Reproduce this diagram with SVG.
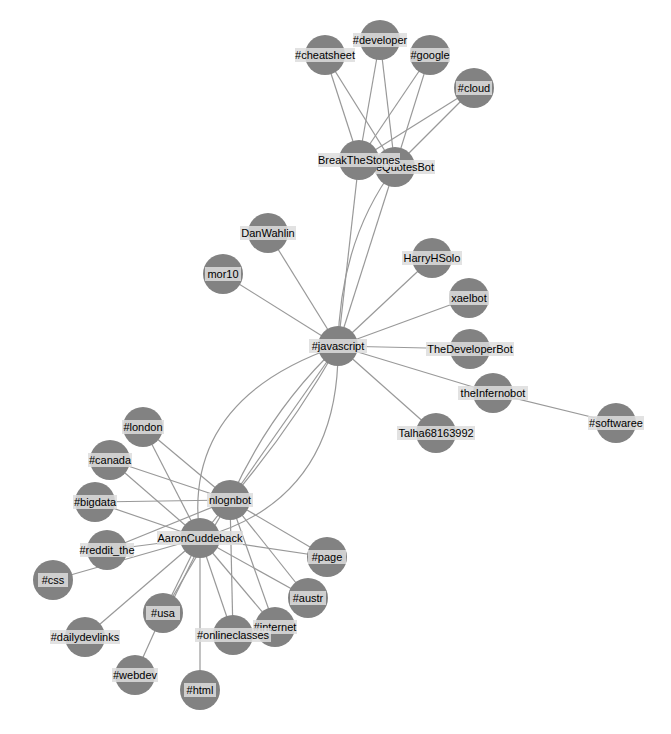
<svg xmlns="http://www.w3.org/2000/svg" width="671" height="734" viewBox="0 0 671 734">
<style>
.e{stroke:#999;stroke-width:1.2;fill:none}
circle{fill:#828282}
rect{fill:#ddd;opacity:0.85}
text{font-family:"Liberation Sans",Arial,sans-serif;font-size:11px;fill:#000;text-anchor:middle;dominant-baseline:central}
</style>
<rect x="0" y="0" width="671" height="734" fill="#fff" opacity="1" style="fill:#fff;opacity:1"/>
<g id="edges">
<line class="e" x1="325" y1="55" x2="359" y2="160"/><line class="e" x1="325" y1="55" x2="395" y2="167"/>
<line class="e" x1="380" y1="40" x2="359" y2="160"/><line class="e" x1="380" y1="40" x2="395" y2="167"/>
<line class="e" x1="430" y1="55" x2="359" y2="160"/><line class="e" x1="430" y1="55" x2="395" y2="167"/>
<line class="e" x1="474" y1="88" x2="359" y2="160"/><line class="e" x1="474" y1="88" x2="395" y2="167"/>
<line class="e" x1="359" y1="160" x2="338" y2="346"/><line class="e" x1="395" y1="167" x2="338" y2="346"/>
<path class="e" d="M395,167 Q340,240 338,346"/>
<line class="e" x1="268" y1="233" x2="338" y2="346"/><line class="e" x1="223" y1="274" x2="338" y2="346"/>
<line class="e" x1="432" y1="258" x2="338" y2="346"/><line class="e" x1="469" y1="298" x2="338" y2="346"/>
<line class="e" x1="470" y1="349" x2="338" y2="346"/><line class="e" x1="493" y1="393" x2="338" y2="346"/>
<line class="e" x1="436" y1="433" x2="338" y2="346"/><line class="e" x1="493" y1="393" x2="616" y2="423"/>
<line class="e" x1="230" y1="500" x2="338" y2="346"/>
<path class="e" d="M230,500 Q270,410 338,346"/><path class="e" d="M230,500 Q290,430 338,346"/>
<path class="e" d="M200,538 Q180,400 338,346"/><path class="e" d="M200,538 Q340,500 338,346"/>
<line class="e" x1="200" y1="538" x2="230" y2="500"/>
<line class="e" x1="143" y1="427" x2="200" y2="538"/><line class="e" x1="143" y1="427" x2="230" y2="500"/>
<line class="e" x1="110" y1="460" x2="200" y2="538"/><line class="e" x1="110" y1="460" x2="230" y2="500"/>
<line class="e" x1="95" y1="502" x2="200" y2="538"/><line class="e" x1="95" y1="502" x2="230" y2="500"/>
<line class="e" x1="107" y1="550" x2="200" y2="538"/><line class="e" x1="107" y1="550" x2="230" y2="500"/>
<line class="e" x1="53" y1="580" x2="200" y2="538"/>
<line class="e" x1="327" y1="557" x2="200" y2="538"/><line class="e" x1="327" y1="557" x2="230" y2="500"/>
<line class="e" x1="308" y1="598" x2="200" y2="538"/><line class="e" x1="308" y1="598" x2="230" y2="500"/>
<line class="e" x1="163" y1="613" x2="200" y2="538"/><line class="e" x1="166" y1="614" x2="203" y2="539"/><line class="e" x1="163" y1="613" x2="230" y2="500"/>
<line class="e" x1="85" y1="637" x2="200" y2="538"/>
<line class="e" x1="233" y1="635" x2="200" y2="538"/><line class="e" x1="233" y1="635" x2="230" y2="500"/>
<line class="e" x1="275" y1="627" x2="200" y2="538"/><line class="e" x1="275" y1="627" x2="230" y2="500"/>
<line class="e" x1="200" y1="690" x2="200" y2="538"/><line class="e" x1="163" y1="613" x2="135" y2="675"/>
</g>
<g id="n-cheatsheet"><circle cx="325" cy="55" r="20"/><rect x="295" y="48" width="60" height="14"/><text x="325" y="55">#cheatsheet</text></g>
<g id="n-developer"><circle cx="380" cy="40" r="20"/><rect x="353" y="33" width="54" height="14"/><text x="380" y="40">#developer</text></g>
<g id="n-google"><circle cx="430" cy="55" r="20"/><rect x="410" y="48" width="40" height="14"/><text x="430" y="55">#google</text></g>
<g id="n-cloud"><circle cx="474" cy="88" r="20"/><rect x="456" y="81" width="36" height="14"/><text x="474" y="88">#cloud</text></g>
<g id="n-quotesbot"><circle cx="395" cy="167" r="20"/><rect x="375" y="160" width="60" height="14"/><text x="405" y="167">eQuotesBot</text></g>
<g id="n-breakthestones"><circle cx="359" cy="160" r="20"/><rect x="318" y="153" width="82" height="14"/><text x="359" y="160">BreakTheStones</text></g>
<g id="n-danwahlin"><circle cx="268" cy="233" r="20"/><rect x="240" y="226" width="56" height="14"/><text x="268" y="233">DanWahlin</text></g>
<g id="n-mor10"><circle cx="223" cy="274" r="20"/><rect x="205" y="267" width="36" height="14"/><text x="223" y="274">mor10</text></g>
<g id="n-harry"><circle cx="432" cy="258" r="20"/><rect x="402" y="251" width="60" height="14"/><text x="432" y="258">HarryHSolo</text></g>
<g id="n-xaelbot"><circle cx="469" cy="298" r="20"/><rect x="449" y="291" width="40" height="14"/><text x="469" y="298">xaelbot</text></g>
<g id="n-devbot"><circle cx="470" cy="349" r="20"/><rect x="426" y="342" width="88" height="14"/><text x="470" y="349">TheDeveloperBot</text></g>
<g id="n-inferno"><circle cx="493" cy="393" r="20"/><rect x="458" y="386" width="70" height="14"/><text x="493" y="393">theInfernobot</text></g>
<g id="n-softwaree"><circle cx="616" cy="423" r="20"/><rect x="588" y="416" width="56" height="14"/><text x="616" y="423">#softwaree</text></g>
<g id="n-talha"><circle cx="436" cy="433" r="20"/><rect x="397" y="426" width="78" height="14"/><text x="436" y="433">Talha68163992</text></g>
<g id="n-javascript"><circle cx="338" cy="346" r="20"/><rect x="309" y="339" width="58" height="14"/><text x="338" y="346">#javascript</text></g>
<g id="n-london"><circle cx="143" cy="427" r="20"/><rect x="122" y="420" width="42" height="14"/><text x="143" y="427">#london</text></g>
<g id="n-canada"><circle cx="110" cy="460" r="20"/><rect x="88" y="453" width="44" height="14"/><text x="110" y="460">#canada</text></g>
<g id="n-bigdata"><circle cx="95" cy="502" r="20"/><rect x="73" y="495" width="44" height="14"/><text x="95" y="502">#bigdata</text></g>
<g id="n-reddit"><circle cx="107" cy="550" r="20"/><rect x="80" y="543" width="54" height="14"/><text x="107" y="550">#reddit_the</text></g>
<g id="n-css"><circle cx="53" cy="580" r="20"/><rect x="38" y="573" width="30" height="14"/><text x="53" y="580">#css</text></g>
<g id="n-page"><circle cx="327" cy="557" r="20"/><rect x="308" y="550" width="38" height="14"/><text x="327" y="557">#page</text></g>
<g id="n-austr"><circle cx="308" cy="598" r="20"/><rect x="290" y="591" width="36" height="14"/><text x="308" y="598">#austr</text></g>
<g id="n-usa"><circle cx="163" cy="613" r="20"/><rect x="146" y="606" width="34" height="14"/><text x="163" y="613">#usa</text></g>
<g id="n-daily"><circle cx="85" cy="637" r="20"/><rect x="50" y="630" width="70" height="14"/><text x="85" y="637">#dailydevlinks</text></g>
<g id="n-internet"><circle cx="275" cy="627" r="20"/><rect x="253" y="620" width="44" height="14"/><text x="275" y="627">#internet</text></g>
<g id="n-online"><circle cx="233" cy="635" r="20"/><rect x="195" y="628" width="76" height="14"/><text x="233" y="635">#onlineclasses</text></g>
<g id="n-webdev"><circle cx="135" cy="675" r="20"/><rect x="112" y="668" width="46" height="14"/><text x="135" y="675">#webdev</text></g>
<g id="n-html"><circle cx="200" cy="690" r="20"/><rect x="184" y="683" width="32" height="14"/><text x="200" y="690">#html</text></g>
<g id="n-nlognbot"><circle cx="230" cy="500" r="20"/><rect x="207" y="493" width="46" height="14"/><text x="230" y="500">nlognbot</text></g>
<g id="n-aaron"><circle cx="200" cy="538" r="20"/><rect x="157" y="531" width="86" height="14"/><text x="200" y="538">AaronCuddeback</text></g>
</svg>
